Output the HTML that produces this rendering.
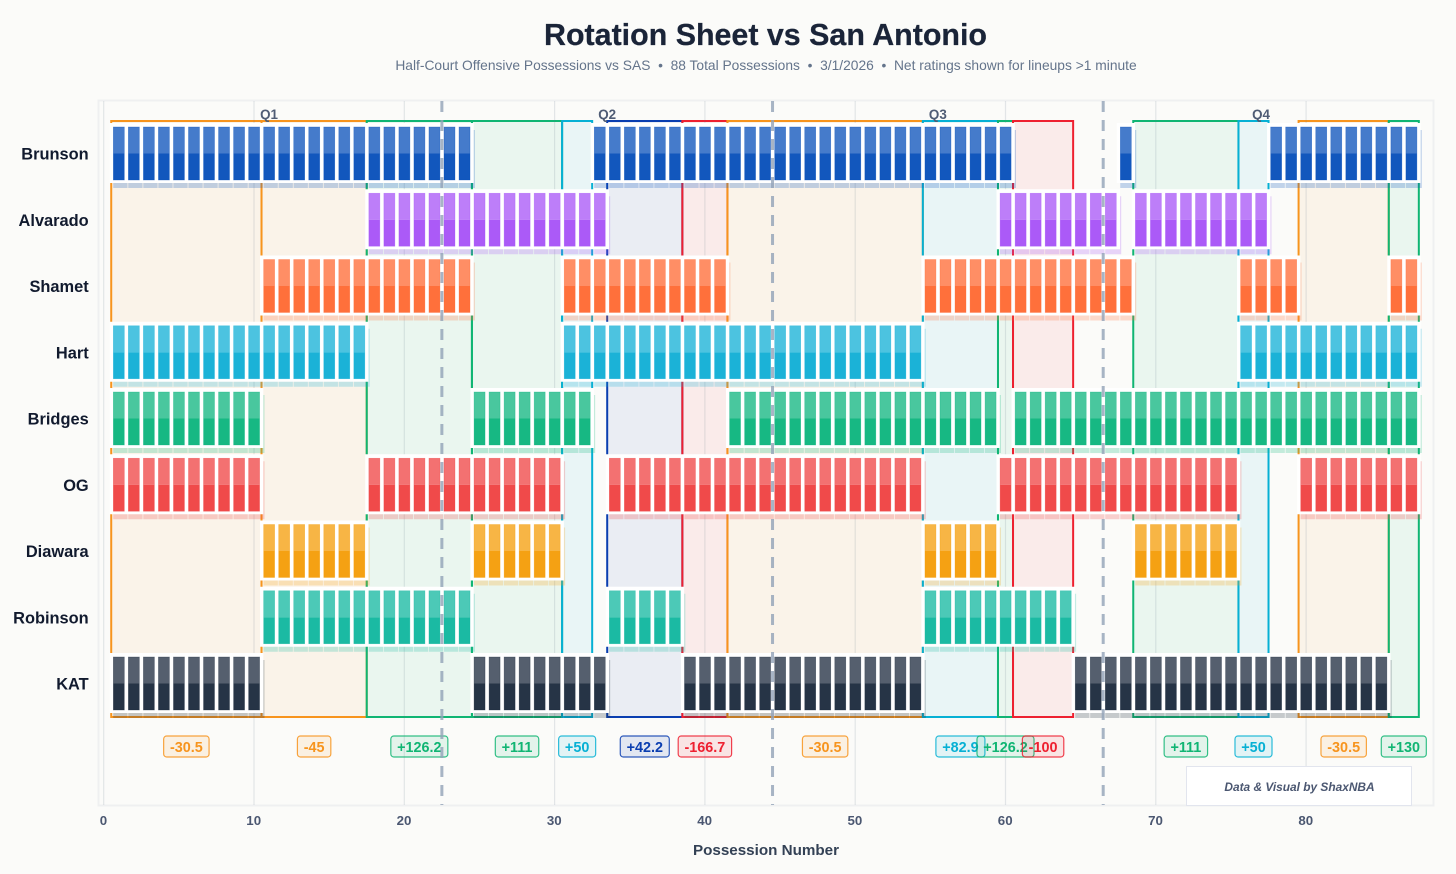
<!DOCTYPE html>
<html lang="en">
<head>
<meta charset="utf-8">
<title>Rotation Sheet vs San Antonio</title>
<style>
html,body{margin:0;padding:0;background:#fbfbf9;}
svg{display:block;font-family:"Liberation Sans",sans-serif;}
</style>
</head>
<body>
<svg id="chart" xmlns="http://www.w3.org/2000/svg" width="1456" height="874" viewBox="0 0 1456 874">
  <rect x="0" y="0" width="1456" height="874" fill="#fbfbf9"/>
  <rect x="98.5" y="100.5" width="1335" height="705" fill="#fbfbf9" stroke="#eff0f1" stroke-width="2"/>
  <g id="grid"></g>
  <g id="shading"></g>
  <g id="grid2"></g>
  <g id="rows"></g>
  <g id="labels"></g>
  <g id="quarters"></g>
  <rect x="1186.5" y="766.5" width="225" height="39" fill="#ffffff" stroke="#e2e5ee" stroke-width="1"/>
  <text x="1299.5" y="791" text-anchor="middle" font-size="11.9" font-weight="700" font-style="italic" fill="#4b5771">Data &amp; Visual by ShaxNBA</text>
  <g id="ticks"></g>
  <text x="766" y="855" text-anchor="middle" font-size="15.2" font-weight="700" fill="#334155">Possession Number</text>
  <text x="765.5" y="45" text-anchor="middle" font-size="30.4" font-weight="700" fill="#1a2438" stroke="#1a2438" stroke-width="0.25">Rotation Sheet vs San Antonio</text>
  <text x="766" y="70" text-anchor="middle" font-size="13.8" fill="#64748b">Half-Court Offensive Possessions vs SAS &#160;•&#160; 88 Total Possessions &#160;•&#160; 3/1/2026 &#160;•&#160; Net ratings shown for lineups &gt;1 minute</text>
</svg>
<script>
var players = ["Brunson","Alvarado","Shamet","Hart","Bridges","OG","Diawara","Robinson","KAT"];
var playerColors = ["#0a52bb","#a855f7","#ff6b35","#14b0d6","#10b67f","#ef4444","#f59e0b","#14b8a0","#1f2d40"];
var stintsBrunson = [[1,24],[33,60],[68,68],[78,87]];
var stintsAlvarado = [[18,33],[60,67],[69,77]];
var stintsShamet = [[11,24],[31,41],[55,68],[76,79],[86,87]];
var stintsHart = [[1,17],[31,54],[76,87]];
var stintsBridges = [[1,10],[25,32],[42,59],[61,87]];
var stintsOG = [[1,10],[18,30],[34,54],[60,75],[80,87]];
var stintsDiawara = [[11,17],[25,30],[55,59],[69,75]];
var stintsRobinson = [[11,24],[34,38],[55,64]];
var stintsKAT = [[1,10],[25,33],[39,54],[65,85]];
var playerStints = [stintsBrunson,stintsAlvarado,stintsShamet,stintsHart,stintsBridges,stintsOG,stintsDiawara,stintsRobinson,stintsKAT];
var lineupFirst = [1,11,18,25,31,34,39,42,55,60,61,69,76,80,86];
var lineupLast = [10,17,24,30,32,38,41,54,59,60,64,75,77,85,87];
var lineupRatings = [-30.5,-45,126.2,111,50,42.2,-166.7,-30.5,82.9,126.2,-100,111,50,-30.5,130];
var quarterNames = ["Q1","Q2","Q3","Q4"];
var quarterStart = [-0.5,22.5,44.5,66.5];
var quarterEnd = [22.5,44.5,66.5,87.5];
var tickValues = [0,10,20,30,40,50,60,70,80];

var NS = "http://www.w3.org/2000/svg";
function xScale(p){ return 103.7 + p * 15.03; }
function yScale(i){ return 154 + i * 66.25; }
function ratingColor(r){
  if (r >= 100) return "#10b573";
  if (r >= 50) return "#06b0d4";
  if (r >= 0) return "#0a3eb0";
  if (r >= -50) return "#f7941d";
  return "#ee2030";
}
function ratingText(r){ return (r > 0 ? "+" : "") + r; }
function mk(parent, tag, props){
  var el = document.createElementNS(NS, tag);
  for (var k in props) el.setAttribute(k, props[k]);
  parent.appendChild(el);
  return el;
}
var gridG = document.getElementById("grid2");
var shadeG = document.getElementById("shading");
var rowsG = document.getElementById("rows");
var labelsG = document.getElementById("labels");
var quartersG = document.getElementById("quarters");
var ticksG = document.getElementById("ticks");
var plotTop = 121, plotBottom = 717;

lineupRatings.forEach(function(r, i){
  var c = ratingColor(r);
  var x0 = xScale(lineupFirst[i] - 0.5), x1 = xScale(lineupLast[i] + 0.5);
  var seg = mk(shadeG, "rect", {x:x0, y:plotTop, width:x1 - x0, height:plotBottom - plotTop, fill:c, "fill-opacity":0.07, stroke:c, "stroke-width":2});
  
  
});

tickValues.forEach(function(t){
  var g = mk(gridG, "line", {x1:xScale(t), x2:xScale(t), y1:101, y2:805, stroke:"#64748b", "stroke-opacity":0.16, "stroke-width":1.2});
  
  
  var tx = mk(ticksG, "text", {x:xScale(t) - 0.3, y:825, "text-anchor":"middle", "font-size":13.3, "font-weight":700, fill:"#4b5771"});
  tx.textContent = t;
  
  
});

players.forEach(function(name, i){
  var cy = yScale(i), color = playerColors[i];
  var row = mk(rowsG, "g", {});
  
  
  var lab = mk(row, "text", {x:88.7, y:cy + 5.6, "text-anchor":"end", "font-size":16.4, "font-weight":700, fill:"#111a2e"});
  lab.textContent = name;
  
  
  playerStints[i].forEach(function(st){
    var g = mk(row, "g", {});
    
    
    var p;
    for (p = st[0]; p <= st[1]; p++){
      var sh = mk(g, "rect", {x:xScale(p) - 5.5, y:cy - 24, width:(p === st[1] ? 16 : 14.3), height:58, fill:color, "fill-opacity":0.24});
      
      
    }
    var wx = xScale(st[0]) - 9, wr = xScale(st[1]) + 9.3;
    var bg = mk(g, "rect", {x:wx, y:cy - 31, width:wr - wx, height:60, fill:"#ffffff"});
    
    
    for (p = st[0]; p <= st[1]; p++){
      var bx = xScale(p) - 5.4;
      var top = mk(g, "rect", {x:bx, y:cy - 27, width:11, height:26.5, fill:color, "fill-opacity":0.76});
      
      
      var bot = mk(g, "rect", {x:bx, y:cy - 0.5, width:11, height:26.5, fill:color, "fill-opacity":0.97});
      
      
      var edge = mk(g, "rect", {x:bx, y:cy - 27, width:11, height:53, fill:"none", stroke:color, "stroke-opacity":0.5, "stroke-width":0.6});
      
      
    }
  });
});

lineupRatings.forEach(function(r, i){
  var c = ratingColor(r);
  var cx = (xScale(lineupFirst[i] - 0.5) + xScale(lineupLast[i] + 0.5)) / 2;
  var box = mk(labelsG, "rect", {y:736, height:21, rx:3, ry:3, fill:c, "fill-opacity":0.1, stroke:c, "stroke-opacity":0.85, "stroke-width":1.2});
  
  
  var t = mk(labelsG, "text", {x:cx, y:752, "text-anchor":"middle", "font-size":14.4, "font-weight":700, fill:c});
  t.textContent = ratingText(r);
  
  
  var w = t.getComputedTextLength() + 12.6;
  box.setAttribute("x", cx - w / 2);
  box.setAttribute("width", w);
});

quarterNames.forEach(function(q, i){
  var cx = (xScale(quarterStart[i]) + xScale(quarterEnd[i])) / 2;
  var t = mk(quartersG, "text", {x:cx, y:119, "text-anchor":"middle", "font-size":13.4, "font-weight":700, fill:"#4f5c75"});
  t.textContent = q;
  
  
  if (i < quarterNames.length - 1){
    var d = mk(quartersG, "line", {x1:xScale(quarterEnd[i]), x2:xScale(quarterEnd[i]), y1:101, y2:805, stroke:"#94a3b8", "stroke-opacity":0.82, "stroke-width":3, "stroke-dasharray":"11 8"});
    
    
  }
});
</script>
</body>
</html>
